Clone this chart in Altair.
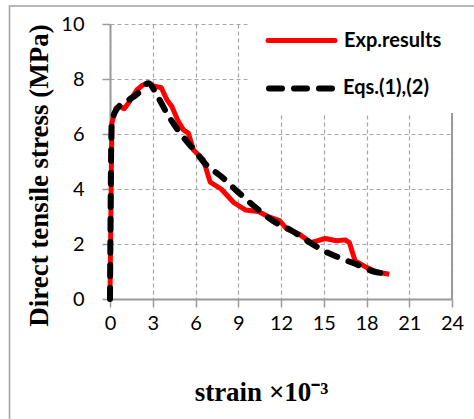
import altair as alt
import pandas as pd

# ---- data ----
series_names = ["Exp.results", "Eqs.(1),(2)"]
series_colors = ["#ff0000", "#000000"]

exp_strain = [0, 0.13, 0.42, 0.7, 1.0, 1.4, 1.88, 2.3, 2.7, 3.05, 3.6, 4.0, 4.34, 4.8,
              5.15, 5.5, 5.86, 6.56, 6.91, 7.03, 7.8, 8.7, 9.5, 10.4, 11.1, 11.9, 12.4,
              13.3, 14.1, 15.1, 15.9, 16.5, 16.8, 17.2, 18.0, 18.7, 19.6]
exp_stress = [0, 6.4, 6.94, 7.0, 6.92, 7.2, 7.6, 7.78, 7.85, 7.75, 7.68, 7.24, 7.0, 6.45,
              6.15, 6.03, 5.42, 5.06, 4.45, 4.25, 4.0, 3.5, 3.24, 3.18, 3.0, 2.85, 2.55,
              2.35, 2.05, 2.2, 2.12, 2.15, 2.05, 1.38, 1.15, 0.98, 0.9]

eq_strain = [0, 0.12, 0.47, 1.2, 1.9, 2.7, 3.3, 4.0, 4.9, 5.9, 6.8, 7.7, 8.9, 10.1,
             11.5, 12.7, 14.1, 15.0, 16.2, 17.4, 18.5, 19.6]
eq_stress = [0, 6.4, 6.9, 7.2, 7.45, 7.85, 7.4, 6.75, 6.05, 5.42, 4.85, 4.5, 3.93, 3.38,
             2.82, 2.5, 2.03, 1.75, 1.48, 1.24, 1.0, 0.92]

x_ticks = [0, 3, 6, 9, 12, 15, 18, 21, 24]
y_ticks = [0, 2, 4, 6, 8, 10]

df_exp = pd.DataFrame({"strain": exp_strain, "stress": exp_stress,
                       "series": series_names[0], "order": range(len(exp_strain))})
df_eq = pd.DataFrame({"strain": eq_strain, "stress": eq_stress,
                      "series": series_names[1], "order": range(len(eq_strain))})
df_border = pd.DataFrame({"strain": [24]})
df_leg = pd.DataFrame({"series": series_names})

grid_col = "#a6a6a6"
axis_col = "#9a9a9a"

x_enc = alt.X("strain:Q",
              scale=alt.Scale(domain=[0, 24], nice=False, zero=False),
              axis=alt.Axis(values=x_ticks, title="strain ×10⁻³",
                            labelFlush=False, labelOverlap=False,
                            labelPadding=6,
                            titleX=151, titleY=101, titleAnchor="start",
                            titleAlign="center", titleBaseline="alphabetic"))
y_enc = alt.Y("stress:Q",
              scale=alt.Scale(domain=[0, 10], nice=False, zero=False),
              axis=alt.Axis(values=y_ticks, title="Direct tensile stress (MPa)",
                            labelFlush=False, labelOverlap=False,
                            labelPadding=18,
                            titleAngle=270, titleX=-63, titleY=151,
                            titleAlign="center", titleBaseline="alphabetic"))
color_enc = alt.Color("series:N",
                      scale=alt.Scale(domain=series_names, range=series_colors),
                      legend=None)

frame = alt.Chart(df_border).mark_rect(
    fill="transparent", stroke="#a0a0a0", strokeWidth=1.5
).encode(x=alt.value(-100.5), x2=alt.value(420), y=alt.value(-18), y2=alt.value(420))

right_border = alt.Chart(df_border).mark_rule(color=axis_col, strokeWidth=2).encode(
    x=x_enc, y=alt.value(0), y2=alt.value(275))

legend_box = alt.Chart(df_border).mark_rect(fill="white").encode(
    x=alt.value(140), x2=alt.value(380), y=alt.value(-6), y2=alt.value(89))

leg_red = alt.Chart(df_leg).transform_filter(
    alt.datum.series == series_names[0]
).mark_rule(strokeWidth=5, strokeCap="round").encode(
    x=alt.value(158), x2=alt.value(225), y=alt.value(16.5), color=color_enc)

leg_black = alt.Chart(df_leg).transform_filter(
    alt.datum.series == series_names[1]
).mark_rule(strokeWidth=6, strokeCap="round", strokeDash=[13, 12]).encode(
    x=alt.value(159), x2=alt.value(224), y=alt.value(64.5), color=color_enc)

leg_txt1 = alt.Chart(df_leg).transform_filter(
    alt.datum.series == series_names[0]
).mark_text(align="left", baseline="alphabetic", font="Lato", fontSize=20,
            fontWeight="bold", color="black").encode(
    x=alt.value(234), y=alt.value(23), text="series:N")

leg_txt2 = alt.Chart(df_leg).transform_filter(
    alt.datum.series == series_names[1]
).mark_text(align="left", baseline="alphabetic", font="Lato", fontSize=20,
            fontWeight="bold", color="black").encode(
    x=alt.value(233), y=alt.value(70), text="series:N")

red_line = alt.Chart(df_exp).mark_line(strokeWidth=5, strokeJoin="round").encode(
    x=x_enc, y=y_enc, order="order:Q", color=color_enc)

black_line = alt.Chart(df_eq).mark_line(
    strokeWidth=6, strokeDash=[11, 12], strokeCap="round", interpolate="monotone"
).encode(x=x_enc, y=y_enc, order="order:Q", color=color_enc)

chart = alt.layer(
    frame, right_border, legend_box, leg_red, leg_black, leg_txt1, leg_txt2,
    red_line, black_line
).properties(
    width=342, height=275,
    autosize=alt.AutoSizeParams(type="none"),
    padding={"left": 110, "top": 24, "right": 22, "bottom": 120},
    background="white",
).configure_view(
    stroke="transparent"
).configure_axis(
    domainColor=axis_col, domainWidth=2,
    tickColor=axis_col, tickSize=8, tickWidth=1.5,
    grid=True, gridColor=grid_col, gridDash=[4, 3], gridWidth=1.2,
    labelFont="Lato", labelFontSize=20, labelColor="black",
    titleFont="Liberation Serif", titleFontSize=27, titleFontWeight="bold",
    titleColor="black",
)

chart.save("out.html", embed_options={"renderer": "svg", "actions": False})
